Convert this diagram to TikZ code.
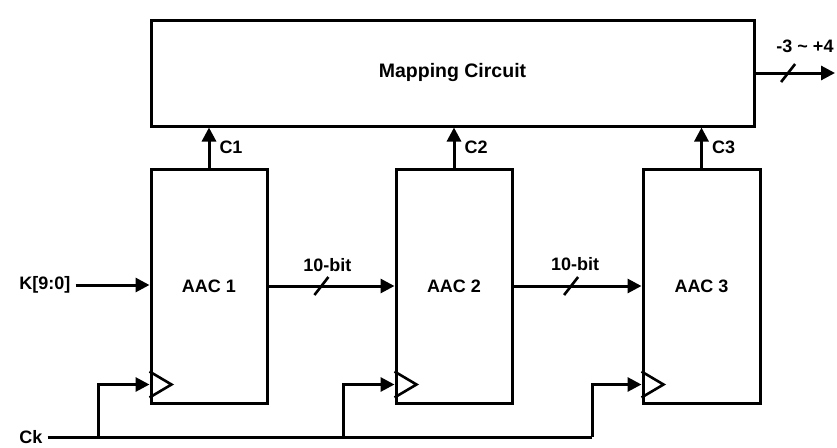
\documentclass[tikz,border=0pt]{standalone}
\usepackage{fontspec}
\setmainfont{Liberation Sans}
\usetikzlibrary{arrows.meta,calc}
\begin{document}
\begin{tikzpicture}[x=1pt,y=-1pt,
  every node/.style={font=\fontsize{18}{20}\selectfont\bfseries},
  blk/.style={draw,line width=3pt,inner sep=0pt},
  wire/.style={line width=3pt},
  arr/.style={wire,-{Triangle[length=14pt,width=14pt]}},
  slash/.style={line width=2.6pt},
  lbl/.style={inner sep=1pt}]
\useasboundingbox (0,0) rectangle (837,447);
% blocks
\node[blk,minimum width=603pt,minimum height=106pt,font=\fontsize{19.5}{21}\selectfont\bfseries] (map) at (452.5,73) {Mapping Circuit};
\node[blk,minimum width=116pt,minimum height=234pt] (aac1) at (209,286) {AAC 1};
\node[blk,minimum width=116pt,minimum height=234pt] (aac2) at (454,286) {AAC 2};
\node[blk,minimum width=117pt,minimum height=234pt] (aac3) at (701.5,286) {AAC 3};
% clock triangles
\foreach \b in {aac1,aac2,aac3}{
  \draw[line width=2.6pt,line join=miter]
    ([yshift=33pt]\b.south west) -- ([xshift=22pt,yshift=20pt]\b.south west) -- ([yshift=7pt]\b.south west);
  \coordinate (\b clk) at ([yshift=20pt]\b.south west);
}
% C outputs
\draw[arr] (aac1.north) -- (aac1.north |- map.south) node[lbl,pos=0.5,right=8pt] {C1};
\draw[arr] (aac2.north) -- (aac2.north |- map.south) node[lbl,pos=0.5,right=8pt] {C2};
\draw[arr] (aac3.north) -- (aac3.north |- map.south) node[lbl,pos=0.5,right=8pt] {C3};
% data path
\node[lbl] (k) at (45,285) {K[9:0]};
\draw[arr] ([xshift=4pt]k.east) -- (aac1.west |- k.east);
\draw[arr] (aac1.east) -- (aac2.west) coordinate[pos=0.42] (s1);
\draw[slash] ($(s1)+(-7,9)$) -- ($(s1)+(7,-9)$);
\node[lbl] at ($(s1)+(6,-21)$) {10-bit};
\draw[arr] (aac2.east) -- (aac3.west) coordinate[pos=0.45] (s2);
\draw[slash] ($(s2)+(-7,9)$) -- ($(s2)+(7,-9)$);
\node[lbl] at ($(s2)+(4,-22)$) {10-bit};
% output
\coordinate (out) at (835,73);
\draw[arr] (map.east) -- (out) coordinate[pos=0.41] (s3);
\draw[slash] ($(s3)+(-7,9)$) -- ($(s3)+(7,-9)$);
\node[lbl] at (805,46) {-3 \textasciitilde\ +4};
% clock
\node[lbl] (ck) at (31,437) {Ck};
\coordinate (ckend) at (592,437);
\draw[wire] ([xshift=4pt]ck.east) -- (ckend);
\coordinate (t1) at (98,437);
\coordinate (t2) at (343,437);
\draw[arr] (t1) |- (aac1clk);
\draw[arr] (t2) |- (aac2clk);
\draw[arr] (ckend) |- (aac3clk);
\end{tikzpicture}
\end{document}
